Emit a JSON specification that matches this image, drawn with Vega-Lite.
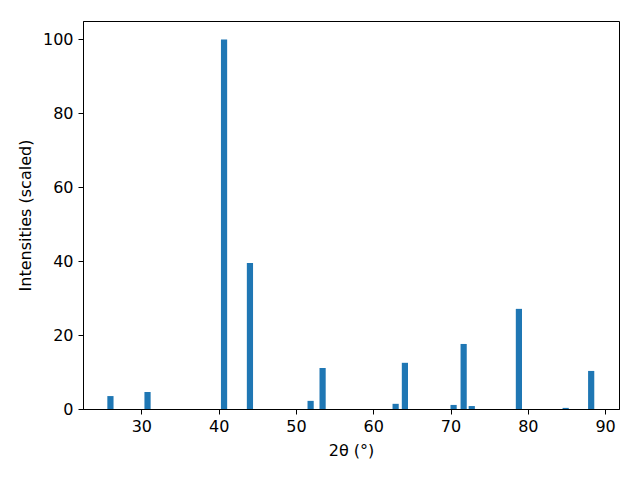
{
  "$schema": "https://vega.github.io/schema/vega-lite/v6.json",
  "autosize": {"type": "none"},
  "padding": {"left": 83, "top": 21, "right": 21, "bottom": 71},
  "width": 536,
  "height": 388,
  "background": "white",
  "config": {
    "view": {"stroke": "black", "strokeWidth": 1},
    "axis": {
      "labelFont": "DejaVu Sans",
      "titleFont": "DejaVu Sans",
      "labelFontSize": 16,
      "titleFontSize": 16,
      "titleFontWeight": "normal",
      "labelColor": "black",
      "titleColor": "black",
      "domainColor": "black",
      "tickColor": "black",
      "tickSize": 5,
      "grid": false,
      "labelPadding": 4
    }
  },
  "data": {
    "values": [
      {"angle": 26.0, "intensity": 3.5},
      {"angle": 30.8, "intensity": 4.6},
      {"angle": 40.7, "intensity": 100},
      {"angle": 44.05, "intensity": 39.5},
      {"angle": 51.9, "intensity": 2.2},
      {"angle": 53.45, "intensity": 11.1},
      {"angle": 62.9, "intensity": 1.4},
      {"angle": 64.1, "intensity": 12.5},
      {"angle": 70.4, "intensity": 1.1},
      {"angle": 71.7, "intensity": 17.6},
      {"angle": 72.75, "intensity": 0.8},
      {"angle": 78.85, "intensity": 27.1},
      {"angle": 84.9, "intensity": 0.3},
      {"angle": 88.2, "intensity": 10.3}
    ]
  },
  "mark": {"type": "bar", "color": "#1f77b4", "width": 6.2},
  "encoding": {
    "x": {
      "field": "angle",
      "type": "quantitative",
      "scale": {"domain": [22.45, 91.8], "nice": false, "zero": false, "padding": 0},
      "axis": {"values": [30, 40, 50, 60, 70, 80, 90], "title": "2θ (°)", "titlePadding": 8}
    },
    "y": {
      "field": "intensity",
      "type": "quantitative",
      "scale": {"domain": [0, 105], "nice": false, "padding": 0},
      "axis": {"values": [0, 20, 40, 60, 80, 100], "title": "Intensities (scaled)", "titlePadding": 9, "labelPadding": 5}
    }
  }
}
